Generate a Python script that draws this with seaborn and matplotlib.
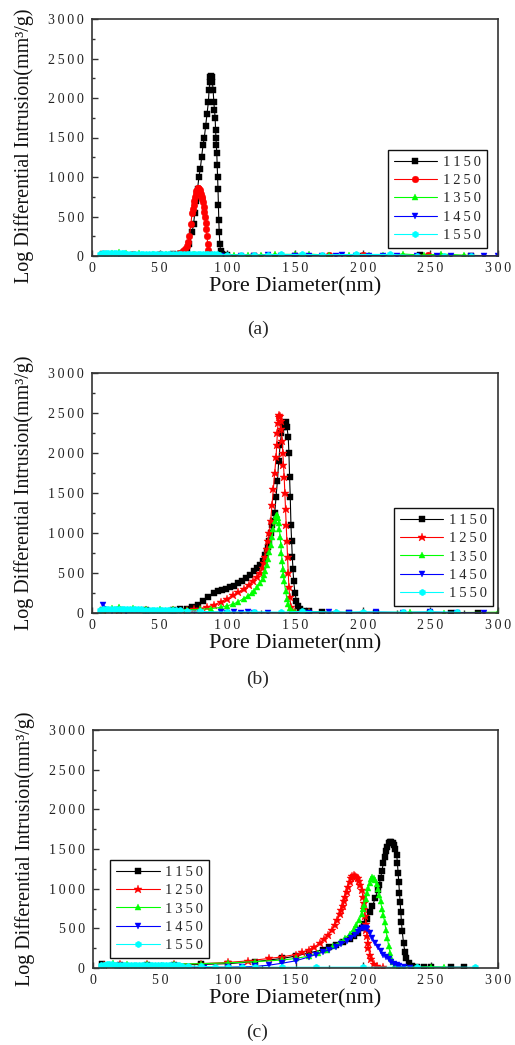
import matplotlib
matplotlib.use("Agg")
import matplotlib.pyplot as plt
from matplotlib.ticker import MultipleLocator, FuncFormatter
import seaborn as sns

# ---------------- data ----------------
LABELS = ["1150", "1250", "1350", "1450", "1550"]
COLORS = ["#000000", "#ff0000", "#00ff00", "#0000ff", "#00ffff"]
X_TICKS = [0, 50, 100, 150, 200, 250, 300]
Y_TICKS = [0, 500, 1000, 1500, 2000, 2500, 3000]
CAPTIONS = ["(a)", "(b)", "(c)"]

# panel (a)
A_1150_X = [8, 30, 50, 60, 65, 68, 70, 72, 74, 75, 76, 77, 78, 79, 80, 81, 82, 83, 84, 85, 86, 86.5, 87, 87.5, 88, 88.5, 89, 89.5, 90, 90.5, 91, 91.3, 91.6, 91.9, 92.2, 92.5, 92.8, 93.1, 93.4, 93.7, 94, 94.5, 95, 96, 100, 120, 150, 200, 242, 280]
A_1150_Y = [20, 15, 15, 20, 30, 50, 80, 150, 300, 400, 550, 700, 850, 1000, 1100, 1250, 1400, 1500, 1650, 1800, 1950, 2100, 2200, 2260, 2280, 2260, 2200, 2100, 1950, 1850, 1750, 1600, 1500, 1400, 1300, 1150, 1000, 850, 650, 450, 300, 150, 60, 20, 10, 5, 5, 5, 10, 5]
A_1250_X = [10, 30, 50, 60, 64, 67, 69, 70, 71, 72, 73, 74, 74.5, 75, 75.5, 76, 76.5, 77, 77.5, 78, 78.5, 79, 79.5, 80, 80.5, 81, 81.5, 82, 82.5, 83, 83.5, 84, 84.5, 85, 85.5, 86, 87, 90, 175, 200, 248]
A_1250_Y = [20, 20, 20, 25, 40, 60, 90, 130, 180, 250, 400, 550, 600, 650, 700, 750, 790, 820, 840, 855, 860, 850, 830, 800, 780, 750, 720, 680, 620, 560, 490, 420, 340, 250, 150, 80, 30, 10, 10, 10, 10]
A_1350_X = [8, 15, 20, 25, 35, 45, 55, 65, 75, 85, 95, 105, 115, 125, 135, 150, 160, 175, 190, 205, 215, 230, 245, 258, 275, 290, 300]
A_1350_Y = [30, 40, 45, 40, 35, 30, 30, 25, 20, 15, 15, 15, 10, 15, 20, 20, 25, 10, 15, 10, 10, 25, 10, 25, 10, 5, 5]
A_1450_X = [8, 20, 40, 60, 80, 95, 110, 120, 130, 140, 150, 160, 170, 180, 185, 195, 205, 215, 225, 240, 255, 265, 280, 290, 300]
A_1450_Y = [10, 10, 5, 5, 5, 5, 5, 5, 8, 5, 5, 5, 5, 5, 8, 5, 5, 5, 5, 5, 5, 5, 5, 5, 5]
A_1550_X = [6, 8, 10, 12, 14, 16, 18, 20, 22, 24, 26, 28, 30, 32, 34, 36, 38, 40, 42, 44, 46, 48, 50, 52, 54, 56, 58, 60, 62, 64, 66, 68, 70, 72, 74, 76, 78, 80, 82, 84, 86, 88, 90, 92, 94, 100, 110, 120, 130, 140, 155, 170, 195, 220, 240, 260, 280]
A_1550_Y = [30, 32, 34, 35, 36, 35, 34, 33, 32, 32, 31, 30, 30, 30, 29, 29, 28, 28, 28, 27, 27, 27, 26, 26, 26, 26, 25, 25, 25, 24, 24, 24, 23, 23, 23, 22, 22, 22, 21, 21, 20, 20, 20, 20, 18, 15, 15, 12, 15, 20, 20, 15, 20, 20, 5, 5, 5]

# panel (b)
B_1150_X = [8, 20, 40, 60, 65, 70, 74, 78, 82, 86, 90, 93, 96, 99, 102, 105, 108, 111, 114, 117, 120, 122, 124, 126, 128, 129, 130, 131, 132, 133, 134, 135, 136, 137, 138, 139, 140, 141, 142, 143, 144, 145, 145.5, 146, 146.5, 147, 147.5, 148, 148.5, 149, 150, 151, 152, 154, 157, 160, 170, 190, 210, 250, 265, 285]
B_1150_Y = [40, 40, 40, 40, 45, 55, 70, 100, 150, 200, 250, 280, 290, 300, 320, 340, 370, 400, 440, 480, 520, 560, 600, 650, 720, 770, 830, 900, 1000, 1100, 1150, 1250, 1450, 1650, 1900, 2100, 2250, 2320, 2380, 2390, 2330, 2200, 2000, 1700, 1450, 1100, 900, 700, 550, 400, 250, 150, 90, 50, 30, 20, 10, 5, 5, 5, 5, 5]
B_1250_X = [8, 20, 40, 60, 70, 75, 80, 85, 90, 95, 100, 104, 108, 112, 116, 119, 122, 124, 126, 127, 128, 129, 130, 131, 132, 133, 134, 135, 136, 136.5, 137, 137.5, 138, 138.5, 139, 139.5, 140, 140.5, 141, 141.5, 142, 142.5, 143, 143.5, 144, 144.5, 145, 145.5, 146, 147, 148, 150, 160, 180, 200]
B_1250_Y = [40, 40, 40, 40, 40, 45, 55, 75, 100, 140, 180, 220, 260, 300, 350, 400, 450, 500, 560, 620, 700, 800, 900, 1000, 1150, 1350, 1550, 1750, 1950, 2100, 2250, 2380, 2450, 2480, 2460, 2400, 2300, 2150, 2000, 1850, 1700, 1500, 1300, 1100, 900, 700, 500, 330, 200, 80, 30, 10, 10, 5, 5]
B_1350_X = [8, 15, 20, 30, 40, 50, 60, 70, 80, 88, 95, 100, 104, 108, 112, 115, 118, 120, 122, 124, 126, 127, 128, 129, 130, 131, 132, 133, 134, 135, 136, 136.5, 137, 137.5, 138, 138.5, 139, 139.5, 140, 140.5, 141, 141.5, 142, 143, 144, 145, 146, 148, 150, 160, 175, 200, 235, 260, 300]
B_1350_Y = [40, 60, 70, 65, 55, 50, 45, 40, 45, 55, 70, 90, 110, 140, 180, 210, 250, 280, 320, 370, 430, 480, 530, 600, 680, 760, 850, 950, 1050, 1150, 1210, 1230, 1220, 1190, 1130, 1050, 950, 850, 750, 650, 550, 470, 400, 280, 180, 110, 60, 30, 15, 10, 10, 5, 10, 5, 10]
B_1450_X = [8, 15, 25, 40, 60, 80, 95, 100, 105, 110, 115, 120, 130, 160, 175, 190, 210, 230, 250, 270, 290]
B_1450_Y = [100, 20, 10, 10, 5, 5, 10, 5, 10, 5, 10, 5, 5, 5, 10, 5, 10, 5, 10, 5, 5]
B_1550_X = [6, 8, 10, 12, 14, 16, 18, 20, 22, 24, 26, 28, 30, 32, 34, 36, 38, 40, 42, 44, 46, 48, 50, 52, 54, 56, 58, 60, 62, 65, 70, 80, 100, 120, 140, 155, 180, 200, 230, 250, 270]
B_1550_Y = [40, 45, 48, 50, 50, 50, 49, 48, 48, 47, 46, 46, 45, 45, 44, 44, 43, 43, 42, 42, 42, 41, 41, 40, 40, 40, 39, 38, 36, 34, 30, 20, 10, 15, 10, 20, 10, 15, 10, 15, 10]

# panel (c)
C_1150_X = [7, 20, 40, 60, 80, 100, 120, 140, 150, 160, 170, 175, 180, 185, 190, 193, 196, 199, 201, 203, 205, 207, 209, 211, 212, 213, 214, 215, 216, 217, 218, 219, 220, 221, 222, 223, 224, 225, 225.5, 226, 226.5, 227, 227.5, 228, 228.5, 229, 230, 231, 232, 234, 236, 240, 245, 250, 265, 275]
C_1150_Y = [50, 40, 40, 40, 45, 55, 80, 120, 150, 190, 230, 260, 290, 330, 370, 400, 440, 500, 560, 620, 700, 780, 880, 980, 1050, 1130, 1220, 1320, 1400, 1470, 1530, 1570, 1590, 1590, 1580, 1550, 1500, 1420, 1320, 1200, 1080, 950, 830, 700, 580, 470, 320, 200, 120, 60, 30, 15, 10, 10, 10, 10]
C_1250_X = [8, 20, 40, 60, 80, 100, 115, 130, 140, 150, 155, 160, 164, 168, 171, 174, 177, 179, 181, 183, 184, 185, 186, 187, 188, 189, 190, 191, 192, 193, 194, 195, 196, 197, 198, 199, 200, 200.5, 201, 201.5, 202, 202.5, 203, 203.5, 204, 205, 206, 208, 210, 215]
C_1250_Y = [40, 50, 45, 50, 55, 70, 90, 120, 140, 170, 200, 230, 270, 310, 360, 420, 480, 540, 600, 680, 730, 780, 840, 900, 960, 1020, 1080, 1130, 1160, 1170, 1165, 1150, 1130, 1100, 1050, 980, 900, 820, 740, 650, 560, 480, 400, 320, 250, 170, 110, 50, 20, 10]
C_1350_X = [8, 15, 25, 40, 60, 80, 100, 120, 140, 150, 160, 167, 173, 178, 183, 187, 190, 193, 195, 197, 199, 200, 201, 202, 203, 204, 205, 206, 207, 208, 209, 210, 211, 212, 213, 214, 215, 216, 217, 218, 219, 220, 221, 222, 224, 227, 230, 240, 250, 260]
C_1350_Y = [40, 60, 50, 50, 50, 55, 65, 80, 100, 120, 150, 190, 230, 280, 330, 380, 430, 490, 540, 600, 680, 740, 800, 870, 940, 1010, 1070, 1120, 1150, 1140, 1110, 1060, 1000, 920, 840, 750, 670, 580, 480, 380, 280, 190, 120, 70, 40, 20, 10, 10, 15, 10]
C_1450_X = [8, 20, 40, 60, 82, 100, 110, 120, 130, 140, 150, 160, 165, 170, 175, 180, 184, 188, 191, 194, 196, 198, 200, 201, 202, 203, 205, 207, 209, 211, 213, 215, 217, 219, 221, 223, 225, 227, 230, 235]
C_1450_Y = [30, 20, 15, 20, 5, 10, 15, 20, 35, 60, 90, 140, 170, 200, 230, 260, 300, 340, 380, 420, 450, 480, 500, 505, 500, 490, 440, 380, 310, 260, 210, 170, 140, 110, 80, 55, 35, 20, 10, 5]
C_1550_X = [6, 8, 10, 12, 14, 16, 18, 20, 22, 24, 26, 28, 30, 32, 34, 36, 38, 40, 42, 44, 46, 48, 50, 52, 54, 56, 58, 60, 62, 64, 66, 70, 80, 90, 100, 110, 120, 140, 165, 200, 240, 283]
C_1550_Y = [35, 40, 45, 45, 45, 44, 44, 43, 43, 42, 42, 41, 41, 40, 40, 40, 39, 39, 38, 38, 38, 37, 37, 36, 36, 35, 35, 34, 33, 32, 30, 25, 20, 15, 10, 10, 10, 10, 10, 10, 10, 10]

PANELS = [
    [(A_1150_X, A_1150_Y), (A_1250_X, A_1250_Y), (A_1350_X, A_1350_Y), (A_1450_X, A_1450_Y), (A_1550_X, A_1550_Y)],
    [(B_1150_X, B_1150_Y), (B_1250_X, B_1250_Y), (B_1350_X, B_1350_Y), (B_1450_X, B_1450_Y), (B_1550_X, B_1550_Y)],
    [(C_1150_X, C_1150_Y), (C_1250_X, C_1250_Y), (C_1350_X, C_1350_Y), (C_1450_X, C_1450_Y), (C_1550_X, C_1550_Y)],
]

# ---------------- style ----------------
sns.set_theme(style="ticks")
plt.rcParams["font.family"] = ["Liberation Serif", "DejaVu Serif"]
plt.rcParams["axes.linewidth"] = 1.2
plt.rcParams["axes.edgecolor"] = "#333333"

MARKERS = [["s", "o", "^", "v", "h"], ["s", "*", "^", "v", "h"], ["s", "*", "^", "v", "h"]]
MSIZES = [4.8, 4.8, 5.0, 5.0, 4.8]
SP = "\u2009"


def spaced(s):
    return SP.join(s)


fig = plt.figure(figsize=(5.15, 10.45), dpi=100)
W, H = 515.0, 1045.0
# axes boxes in pixels: (left, top, right, bottom)
BOXES = [(92, 19, 498, 256), (92, 373, 498, 613), (93, 730, 498, 968)]
LEG = [("lower right", (0.973, 0.034)), ("lower right", (0.988, 0.029)), ("lower left", (0.042, 0.042))]
CAP_Y = [329, 679, 1032]
YLAB_Y = [0.465, 0.5, 0.5]

for p, (box, series) in enumerate(zip(BOXES, PANELS)):
    l, t, r, b = box
    ax = fig.add_axes([l / W, (H - b) / H, (r - l) / W, (b - t) / H])
    for i, (xs, ys) in enumerate(series):
        sns.lineplot(x=xs, y=ys, ax=ax, color=COLORS[i], marker=MARKERS[p][i],
                     markersize=MSIZES[i] + (1.5 if MARKERS[p][i] == "*" else 0),
                     markeredgewidth=0.3, markeredgecolor=COLORS[i],
                     linewidth=0.8, estimator=None, sort=False,
                     label=spaced(LABELS[i]))
    ax.set_xlim(0, 300)
    ax.set_ylim(0, 3000)
    ax.set_xticks(X_TICKS)
    ax.set_yticks(Y_TICKS)
    ax.xaxis.set_minor_locator(MultipleLocator(25))
    ax.yaxis.set_minor_locator(MultipleLocator(250))
    fmt = FuncFormatter(lambda v, pos: spaced(str(int(round(v)))))
    ax.xaxis.set_major_formatter(fmt)
    ax.yaxis.set_major_formatter(fmt)
    ax.tick_params(which="both", direction="in", top=False, right=False,
                   colors="#333333", labelcolor="#222222", labelsize=10, width=1)
    ax.tick_params(which="major", length=4)
    ax.tick_params(which="minor", length=2.5)
    ax.tick_params(axis="y", pad=6)
    ax.tick_params(axis="x", pad=4)
    for s in ax.spines.values():
        s.set_visible(True)
        s.set_color("#333333")
    ax.set_xlabel("Pore Diameter(nm)", fontsize=16, labelpad=2, color="#111111")
    ax.set_ylabel("Log Differential Intrusion(mm\u00b3/g)", fontsize=14.5, color="#111111")
    ax.yaxis.set_label_coords(-0.143, YLAB_Y[p])
    loc, anchor = LEG[p]
    leg = ax.legend(loc=loc, bbox_to_anchor=anchor, borderaxespad=0, fontsize=10.5,
                    frameon=True, fancybox=False, shadow=False, framealpha=1,
                    edgecolor="#111111", handlelength=3.0, handletextpad=0.4,
                    labelspacing=0.35, borderpad=0.4)
    leg.get_frame().set_linewidth(1.0)
    fig.text(0.5, (H - CAP_Y[p]) / H, CAPTIONS[p], ha="center", va="center", fontsize=14)

fig.savefig("out.png", dpi=100)
